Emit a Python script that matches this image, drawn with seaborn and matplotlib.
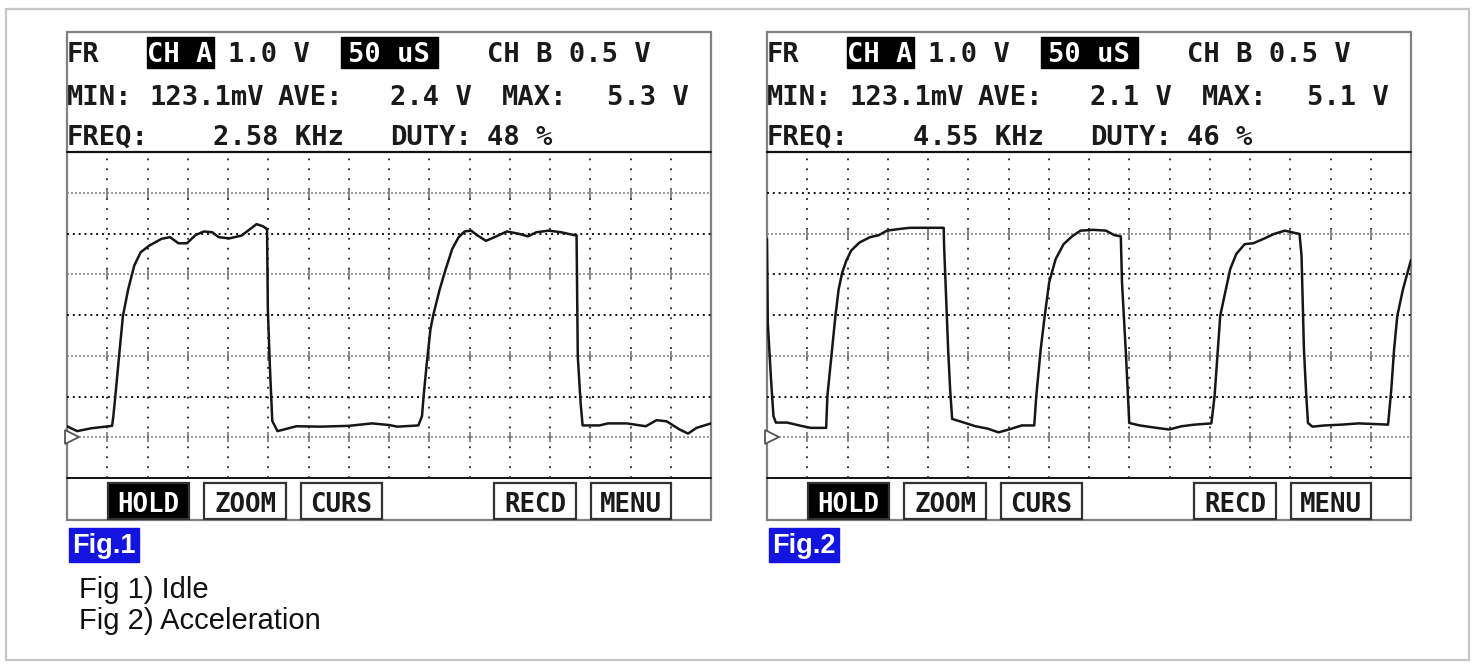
import matplotlib
matplotlib.use("Agg")
import matplotlib.pyplot as plt
import seaborn as sns
from matplotlib.patches import Rectangle

# scope: 1 V/div, 50 us/div, 16 x 8 divisions, zero level at first division
time_span_us = 800
volt_low, volt_high = -1, 7
trigger_level = 0.0

# Fig.1 - idle (time in us, volts)
fig1_t = [0, 12.5, 30, 56, 57.5, 60, 65.5, 69.5, 76, 83.5, 91.5, 102, 117.5, 128,
          138.5, 149, 159.5, 170, 180.5, 188.5, 201.5, 217, 227.5, 235.5, 243, 248.5,
          249.5, 252, 255, 261.5, 285, 315, 350, 379, 400, 410.5, 436.5, 441, 443,
          447, 451.5, 455, 463, 470.5, 478.5, 486.5, 494, 502, 510, 520.5, 531, 546.5,
          562, 572.5, 583, 598.5, 614, 630, 633, 634.5, 638, 640.5, 661.5, 672, 695.5,
          719, 732.5, 745, 761, 771.5, 782, 800]
fig1_v = [0.27, 0.15, 0.22, 0.28, 0.5, 1.0, 2.16, 2.98, 3.63, 4.21, 4.54, 4.70, 4.87, 4.91,
          4.76, 4.76, 4.96, 5.05, 5.03, 4.91, 4.88, 4.95, 5.11, 5.23, 5.18, 5.11,
          3.14, 1.75, 0.40, 0.15, 0.27, 0.26, 0.28, 0.34, 0.30, 0.26, 0.29, 0.52, 1.01,
          1.83, 2.65, 3.0, 3.63, 4.13, 4.62, 4.91, 5.05, 5.07, 4.95, 4.82, 4.91, 5.05,
          4.99, 4.93, 5.03, 5.07, 5.03, 4.96, 4.96, 1.99, 0.85, 0.29, 0.29, 0.34, 0.34,
          0.27, 0.42, 0.39, 0.19, 0.09, 0.23, 0.34]

# Fig.2 - acceleration
fig2_t = [0, 1, 5, 8, 11, 25, 44.5, 54.5, 73.5,
          75, 80, 85, 89, 93.5, 98.5, 104.5, 115, 128, 139, 149, 164, 177.5, 219.5,
          220, 225, 227.5, 230, 243, 259, 274.5, 287.5, 300.5, 316.5, 332,
          334.5, 340, 345, 350.5, 358.5, 368.5, 379, 389.5, 405, 421, 431.5, 439.5,
          441, 446, 450, 463, 484, 499.5, 515, 531, 552,
          556, 559.5, 563, 570, 575.5, 583, 593.5, 604, 617, 630, 643.5, 656.5, 661.5,
          664, 667, 669.5, 672, 677.5, 693, 714, 735, 771.5,
          775.5, 779, 783, 790, 797.5, 800]
fig2_v = [4.87, 2.81, 1.42, 0.52, 0.36, 0.36, 0.27, 0.23, 0.23,
          1.01, 1.99, 2.98, 3.63, 4.05, 4.33, 4.58, 4.78, 4.91, 4.96, 5.07, 5.11, 5.14, 5.14,
          4.70, 2.16, 1.17, 0.45, 0.37, 0.27, 0.21, 0.12, 0.19, 0.29, 0.29,
          1.01, 2.16, 2.98, 3.80, 4.37, 4.74, 4.93, 5.07, 5.09, 5.07, 4.96, 4.93,
          3.80, 1.99, 0.35, 0.29, 0.23, 0.19, 0.27, 0.31, 0.34,
          1.01, 1.99, 2.98, 3.63, 4.13, 4.50, 4.74, 4.76, 4.87, 4.99, 5.07, 5.01, 4.99,
          4.46, 2.16, 1.17, 0.35, 0.26, 0.29, 0.31, 0.34, 0.31,
          1.17, 2.16, 2.98, 3.63, 4.17, 4.35]

fig1_readout = ["2.4 V", "5.3 V", "2.58 KHz", "48 %"]
fig2_readout = ["2.1 V", "5.1 V", "4.55 KHz", "46 %"]
fig1_marked = [0, 2, 4, 6]
fig2_marked = [0, 2, 5]
fig_labels = ["Fig.1", "Fig.2"]
captions = ["Fig 1) Idle", "Fig 2) Acceleration"]
buttons = ["HOLD", "ZOOM", "CURS", "RECD", "MENU"]

W, H = 1478, 668
sns.set_style("white")
plt.rcParams["font.family"] = ["DejaVu Sans Mono"]

fig = plt.figure(figsize=(W / 100, H / 100), dpi=100)
bg = fig.add_axes([0, 0, 1, 1])
bg.set_xlim(0, W)
bg.set_ylim(H, 0)
bg.axis("off")

bg.add_patch(Rectangle((6, 9), 1463, 651, fill=False, ec="#c6c6c6", lw=1.6))

mono = dict(family="DejaVu Sans Mono", fontsize=19.5, weight="bold", color="#1a1a1a",
            va="baseline")
btn_x = [108, 204, 301, 494, 591]
btn_w = [81, 82, 81, 82, 80]


def draw_panel(x0, readout, label):
    dx = x0 - 67
    bg.add_patch(Rectangle((x0, 32), 644, 488, fill=False, ec="#808080", lw=1.6))
    bg.plot([x0, x0 + 644], [152, 152], color="#111", lw=1.6)
    bg.plot([x0, x0 + 644], [478, 478], color="#111", lw=1.4)
    # header readout
    bg.text(67 + dx, 62, "FR", **mono)
    bg.add_patch(Rectangle((147 + dx, 37), 67, 31, color="black"))
    bg.text(180 + dx, 62, "CH A", ha="center", **{**mono, "color": "white"})
    bg.text(228 + dx, 62, "1.0 V", **mono)
    bg.add_patch(Rectangle((341 + dx, 37), 97, 31, color="black"))
    bg.text(389 + dx, 62, "50 uS", ha="center", **{**mono, "color": "white"})
    bg.text(487 + dx, 62, "CH B 0.5 V", **mono)
    bg.text(67 + dx, 105, "MIN:", **mono)
    bg.text(150 + dx, 105, "123.1mV", **mono)
    bg.text(278 + dx, 105, "AVE:", **mono)
    bg.text(390 + dx, 105, readout[0], **mono)
    bg.text(502 + dx, 105, "MAX:", **mono)
    bg.text(607 + dx, 105, readout[1], **mono)
    bg.text(67 + dx, 145, "FREQ:", **mono)
    bg.text(213 + dx, 145, readout[2], **mono)
    bg.text(390 + dx, 145, "DUTY:", **mono)
    bg.text(487 + dx, 145, readout[3], **mono)
    # soft keys
    for i, (name, bx, bw) in enumerate(zip(buttons, btn_x, btn_w)):
        dark = i == 0
        bg.add_patch(Rectangle((bx + dx, 483), bw, 36, fc="black" if dark else "white",
                               ec="#333", lw=1.6))
        bg.text(bx + dx + bw / 2, 512, name, ha="center", va="baseline",
                family="DejaVu Sans Mono", weight="bold", fontsize=18.5,
                color="white" if dark else "#1a1a1a")
    # figure tag
    bg.add_patch(Rectangle((69 + dx, 528), 70, 34, color="#1414e0"))
    bg.text(104 + dx, 553, label, ha="center", va="baseline", color="white",
            family="Liberation Sans", weight="bold", fontsize=19.5)


def draw_trace(x0, t, v, marked):
    ax = fig.add_axes([x0 / W, 1 - 478 / H, 644 / W, 326 / H])
    ax.set_xlim(0, time_span_us)
    ax.set_ylim(volt_low, volt_high)
    ax.axis("off")
    step = time_span_us / 16
    for k in range(1, 16):
        ax.axvline(k * step, color="#222", lw=1.3, ls=(0, (1, 4.5)))
    for lv in range(volt_low + 1, volt_high):
        if lv in marked:
            ax.axhline(lv, color="#8a8a8a", lw=1.2, ls=(0, (1.2, 1.2)))
            ax.plot([k * step for k in range(1, 16)], [lv] * 15, ls="none", marker="|",
                    ms=7, mew=1.2, color="#777")
        else:
            ax.axhline(lv, color="#111", lw=1.4, ls=(0, (1, 2)))
    sns.lineplot(x=t, y=v, sort=False, estimator=None, color="#161616", lw=1.8, ax=ax)
    ax.plot([6], [trigger_level], marker=">", ms=10, mfc="white", mec="#555", mew=1.3,
            clip_on=False)
    ax.set_xlabel("")
    ax.set_ylabel("")


draw_panel(67, fig1_readout, fig_labels[0])
draw_panel(767, fig2_readout, fig_labels[1])
draw_trace(67, fig1_t, fig1_v, fig1_marked)
draw_trace(767, fig2_t, fig2_v, fig2_marked)

bg.text(79, 598, captions[0], family="Liberation Sans", fontsize=21, color="#111",
        va="baseline")
bg.text(79, 629, captions[1], family="Liberation Sans", fontsize=21, color="#111",
        va="baseline")

fig.savefig("out.png", dpi=100)
